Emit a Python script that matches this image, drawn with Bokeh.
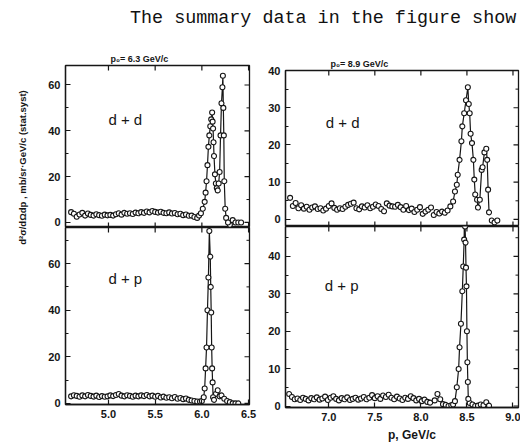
import math
from bokeh.plotting import figure
from bokeh.layouts import row, column
from bokeh.models import Div, Label, FixedTicker, LinearAxis, Range1d, NumeralTickFormatter
from bokeh.embed import file_html
from bokeh.resources import INLINE

# ---------------- data ----------------
HEADER = "The summary data in the figure show"
TITLE_L = "p\u2080= 6.3 GeV/c"
TITLE_R = "p\u2080= 8.9 GeV/c"
REACTIONS = ["d + d", "d + p"]
Y_LABEL = "d\u00b2\u03c3/d\u03a9dp , mb/sr\u00b7GeV/c (stat.syst)"
X_LABEL = "p, GeV/c"

xticks_l = [5.0, 5.5, 6.0, 6.5]
xticks_r = [7.0, 7.5, 8.0, 8.5, 9.0]

# p0 = 6.3 GeV/c, d + d
tl_base_x = [4.60, 4.63, 4.66, 4.69, 4.72, 4.75, 4.78, 4.81, 4.84, 4.87,
             4.90, 4.93, 4.96, 4.99, 5.02, 5.05, 5.08, 5.11, 5.14, 5.17,
             5.20, 5.23, 5.26, 5.29, 5.32, 5.35, 5.38, 5.41, 5.44, 5.47,
             5.50, 5.53, 5.56, 5.59, 5.62, 5.65, 5.68, 5.71, 5.74, 5.77,
             5.80, 5.83, 5.86, 5.89, 5.92, 5.95,
             6.30, 6.33, 6.36, 6.39, 6.42]
tl_base_y = [4.5, 3.8, 2.5, 3.5, 4.2, 3.0, 3.9, 3.3, 3.0, 3.6,
             3.2, 2.9, 3.4, 3.1, 3.3, 3.0, 3.6, 4.0, 3.4, 4.2,
             3.8, 4.0, 3.7, 4.3, 4.0, 4.5, 4.2, 4.8, 4.4, 5.0,
             4.6, 4.3, 4.7, 4.2, 4.0, 4.4, 3.9, 4.1, 3.6, 3.8,
             3.2, 3.5, 2.9, 3.0, 2.4, 2.0,
             -1.0, 1.0, 0.0, 0.0, 0.0]
tl_peak_x = [5.97, 5.99, 6.01, 6.03, 6.04, 6.05, 6.06, 6.07, 6.08, 6.09,
             6.10, 6.11, 6.115, 6.12, 6.125, 6.13, 6.14, 6.15, 6.16, 6.17,
             6.18, 6.19, 6.20, 6.21, 6.22, 6.225, 6.23, 6.235, 6.24, 6.25,
             6.26, 6.28]
tl_peak_y = [3, 4, 6, 9, 13, 18, 25, 33, 38, 42,
             45, 48, 44, 41, 35, 29, 21, 17, 15, 14,
             17, 22, 38, 52, 59, 64, 50, 38, 18, 6,
             2, 0]

# p0 = 6.3 GeV/c, d + p
bl_base_x = [4.60, 4.63, 4.66, 4.69, 4.72, 4.75, 4.78, 4.81, 4.84, 4.87,
             4.90, 4.93, 4.96, 4.99, 5.02, 5.05, 5.08, 5.11, 5.14, 5.17,
             5.20, 5.23, 5.26, 5.29, 5.32, 5.35, 5.38, 5.41, 5.44, 5.47,
             5.50, 5.53, 5.56, 5.59, 5.62, 5.65, 5.68, 5.71, 5.74, 5.77,
             5.80, 5.83, 5.86, 5.89, 5.92, 5.95,
             6.15, 6.17, 6.19, 6.21, 6.24, 6.27, 6.30, 6.33, 6.36, 6.39]
bl_base_y = [3.0, 3.5, 3.2, 2.8, 3.4, 3.0, 3.6, 3.2, 2.9, 3.3,
             2.7, 3.1, 2.8, 3.0, 3.4, 3.1, 3.6, 4.0, 3.3, 3.0,
             3.5, 3.2, 2.8, 3.3, 3.0, 3.4, 3.1, 3.6, 3.0, 3.3,
             2.8, 3.2, 2.5, 2.9, 2.4, 2.6, 2.2, 2.7, 2.0, 2.3,
             1.8, 2.1, 1.5, 1.2, 1.0, 0.8,
             4.0, 5.6, 3.0, 3.4, 2.0, 1.0, 0.5, 0.0, 0.0, 0.0]
bl_peak_x = [5.98, 6.00, 6.02, 6.03, 6.04, 6.05, 6.06, 6.07, 6.08, 6.09,
             6.095, 6.10, 6.105, 6.11, 6.115, 6.12, 6.13]
bl_peak_y = [0.8, 1.0, 2.6, 6.4, 15, 24, 40, 54, 74, 63,
             50, 39, 24, 15, 9, 2.6, 1.5]

# p0 = 8.9 GeV/c, d + d
tr_base_x = [6.58, 6.61, 6.64, 6.67, 6.70, 6.73, 6.76, 6.79, 6.82, 6.85,
             6.88, 6.91, 6.94, 6.97, 7.00, 7.03, 7.06, 7.09, 7.12, 7.15,
             7.18, 7.21, 7.24, 7.27, 7.30, 7.33, 7.36, 7.39, 7.42, 7.45,
             7.48, 7.51, 7.54, 7.57, 7.60, 7.63, 7.66, 7.69, 7.72, 7.75,
             7.78, 7.81, 7.84, 7.87, 7.90, 7.93, 7.96, 7.99, 8.02, 8.05,
             8.08, 8.11, 8.14, 8.17, 8.20, 8.23, 8.26, 8.29,
             8.77, 8.80, 8.83]
tr_base_y = [5.8, 3.6, 4.4, 3.0, 3.8, 2.9, 3.4, 2.6, 3.2, 3.5,
             2.8, 3.0, 2.4, 2.9, 3.6, 4.3, 3.1, 2.6, 3.0, 2.8,
             3.4, 3.9, 4.2, 4.5, 3.0, 2.7, 3.5, 3.2, 3.8, 3.0,
             3.4, 4.0, 3.6, 2.8, 2.2, 4.3, 3.7, 3.5, 3.4, 3.9,
             3.3, 2.6, 3.6, 2.5, 2.9, 2.0, 2.6, 3.3, 1.5, 2.1,
             2.6, 3.2, 1.2, 2.0, 1.6, 2.1, 1.8, 2.4,
             -0.3, -0.8, -0.3]
tr_peak_x = [8.32, 8.35, 8.37, 8.39, 8.40, 8.42, 8.44, 8.45, 8.47, 8.49,
             8.51, 8.52, 8.53, 8.54, 8.555, 8.57, 8.58, 8.59, 8.61, 8.62,
             8.64, 8.66, 8.67, 8.69, 8.71, 8.72, 8.73, 8.74]
tr_peak_y = [3.5, 4.8, 7.5, 9.3, 12, 16, 21, 25, 28.5, 32,
             35.5, 31, 28.5, 23, 20.5, 16, 10.7, 6.7, 5.3, 3.2,
             5.3, 13.3, 14, 18, 19, 16, 8, 1.9]

# p0 = 8.9 GeV/c, d + p
br_base_x = [6.57, 6.60, 6.63, 6.66, 6.69, 6.72, 6.75, 6.78, 6.81, 6.84,
             6.87, 6.90, 6.93, 6.96, 6.99, 7.02, 7.05, 7.08, 7.11, 7.14,
             7.17, 7.20, 7.23, 7.26, 7.29, 7.32, 7.35, 7.38, 7.41, 7.44,
             7.47, 7.50, 7.53, 7.56, 7.59, 7.62, 7.65, 7.68, 7.71, 7.74,
             7.77, 7.80, 7.83, 7.86, 7.89, 7.92, 7.95, 7.98, 8.01, 8.04,
             8.07, 8.10,
             8.15, 8.18, 8.21, 8.24, 8.27, 8.30, 8.33, 8.35,
             8.53, 8.56, 8.59, 8.62, 8.65, 8.68, 8.71, 8.74]
br_base_y = [3.2, 2.4, 1.8, 2.0, 1.6, 2.2, 1.9, 1.5, 2.1, 1.8,
             2.3, 1.7, 2.0, 2.5, 1.6, 2.2, 2.6, 1.9, 1.5, 2.1,
             1.8, 2.3, 1.6, 1.9, 2.2, 1.7, 2.0, 2.4, 1.8, 2.2,
             2.9, 2.1, 2.6, 1.9, 2.8, 2.4, 3.0, 2.2, 1.8, 2.5,
             2.0, 1.6, 2.2, 1.9, 2.6, 2.1, 1.5, 1.9, 1.3, 1.7,
             1.1, 0.9,
             1.5, 3.2, 1.8, 0.5, 0.3, 0.0, 0.2, 0.4,
             0.8, 0.4, 0.0, 0.1, 0.4, 0.2, 1.0, 0.1]
br_peak_x = [8.37, 8.39, 8.41, 8.42, 8.435, 8.45, 8.46, 8.47, 8.475, 8.48,
             8.485, 8.49, 8.495, 8.50, 8.505, 8.51, 8.515]
br_peak_y = [1.3, 5, 9.9, 15.7, 22, 30.7, 37.3, 44.5, 58, 48,
             43.7, 37, 32, 20, 11.7, 6.4, 1.9]

# ---------------- styling ----------------
INK = "#161616"
SANS = "Liberation Sans"
NB = "\u00a0"


def make_axis(ticks, minor, fmt=None):
    ax = LinearAxis(ticker=FixedTicker(ticks=ticks, minor_ticks=minor))
    ax.major_tick_in = 5
    ax.major_tick_out = 0
    ax.minor_tick_in = 3
    ax.minor_tick_out = 0
    ax.axis_line_color = INK
    ax.axis_line_width = 1.3
    ax.major_tick_line_color = INK
    ax.major_tick_line_width = 1.2
    ax.minor_tick_line_color = INK
    ax.major_label_text_font = SANS
    ax.major_label_text_font_size = "11px"
    ax.major_label_text_font_style = "bold"
    ax.major_label_text_color = INK
    ax.major_label_standoff = 5
    ax.axis_label_text_font = SANS
    ax.axis_label_text_font_style = "bold"
    ax.axis_label_text_color = INK
    if fmt:
        ax.formatter = NumeralTickFormatter(format=fmt)
    return ax


def edge_ticks(p, xr, yr, xt, yt, ym, bottom_axis):
    # inward ticks on the right and top edges (and bottom edge of upper panels)
    p.scatter([xr[1]] * len(yt), yt, marker="dash", size=10,
              line_color=INK, line_width=1.2)
    p.scatter([xr[1]] * len(ym), ym, marker="dash", size=6,
              line_color=INK, line_width=1.0)
    p.scatter(xt, [yr[1]] * len(xt), marker="dash", angle=math.pi / 2,
              size=10, line_color=INK, line_width=1.2)
    if not bottom_axis:
        p.scatter(xt, [yr[0]] * len(xt), marker="dash", angle=math.pi / 2,
                  size=10, line_color=INK, line_width=1.2)


def panel(xr, yr, fw, fh, bl, br, bt, bb, xt, yt, ym, bottom_axis,
          bx, by, px, py, tag, tag_xy, title=None):
    kw = {}
    if title is not None:
        kw["title"] = title
    p = figure(frame_width=fw, frame_height=fh,
               x_range=Range1d(*xr), y_range=Range1d(*yr),
               x_axis_type=None, y_axis_type=None,
               output_backend="svg", toolbar_location=None,
               min_border_left=bl, min_border_right=br,
               min_border_top=bt, min_border_bottom=bb, **kw)
    p.outline_line_color = INK
    p.outline_line_width = 1.3
    p.background_fill_color = "white"
    p.border_fill_color = "white"
    p.add_layout(make_axis(yt, ym), "left")
    if bottom_axis:
        p.add_layout(make_axis(xt, [], "0.0"), "below")
    edge_ticks(p, xr, yr, xt, yt, ym, bottom_axis)
    p.line(px, py, line_color=INK, line_width=1.2)
    p.scatter(bx, by, marker="circle", size=5, fill_color="white",
              line_color=INK, line_width=1.1)
    p.scatter(px, py, marker="circle", size=5, fill_color="white",
              line_color=INK, line_width=1.1)
    p.add_layout(Label(x=tag_xy[0], y=tag_xy[1], text=tag,
                       text_font=SANS, text_font_size="15px",
                       text_color=INK, text_align="center",
                       text_baseline="middle"))
    if title is not None:
        p.title.text_font = SANS
        p.title.text_font_size = "9px"
        p.title.text_font_style = "bold"
        p.title.text_color = INK
        p.title.align = "left"
        p.title.offset = 45
        p.title.standoff = 3
    return p


XR_L = (4.54, 6.51)
XR_R = (6.53, 9.06)
YR_TL = (-2.2, 68.5)
YR_BL = (-0.5, 75.5)
YR_TR = (-1.9, 40)
YR_BR = (-0.4, 48.0)

tl = panel(XR_L, YR_TL, 184, 162, 25, 11, 25, 0, xticks_l,
           [0, 20, 40, 60], [10, 30, 50], False,
           tl_base_x, tl_base_y, tl_peak_x, tl_peak_y, REACTIONS[0], (5.18, 45.0),
           title=TITLE_L)
bl = panel(XR_L, YR_BL, 184, 177, 25, 11, 0, 40, xticks_l,
           [0, 20, 40, 60], [10, 30, 50, 70], True,
           bl_base_x, bl_base_y, bl_peak_x, bl_peak_y, REACTIONS[1], (5.18, 53.6))
tr = panel(XR_R, YR_TR, 233, 156, 25, 2, 30, 0, xticks_r,
           [0, 10, 20, 30, 40], [5, 15, 25, 35], False,
           tr_base_x, tr_base_y, tr_peak_x, tr_peak_y, REACTIONS[0], (7.15, 26.0),
           title=TITLE_R)
br = panel(XR_R, YR_BR, 233, 181, 25, 2, 0, 37, xticks_r,
           [0, 10, 20, 30, 40], [5, 15, 25, 35, 45], True,
           br_base_x, br_base_y, br_peak_x, br_peak_y, REACTIONS[1], (7.14, 32.2))

# x-axis label (on the lower-right panel, nudged right)
br.below[0].axis_label = NB * 6 + X_LABEL
br.below[0].axis_label_text_font_size = "12px"
br.below[0].axis_label_standoff = 4

# rotated y-axis label in its own narrow column at the left
ylab = Div(text=('<div style="position: relative; left: -58px; top: 119px; '
                 'width: 160px; text-align: center; transform: rotate(-90deg); '
                 'white-space: nowrap; font-family: \'Liberation Sans\', sans-serif; '
                 'font-weight: bold; font-size: 9.5px; line-height: 11px; color: #161616;">'
                 + Y_LABEL + '</div>'),
           width=40, height=404, margin=0)

header = Div(text=('<div style="font-family: \'Liberation Mono\', monospace; '
                   'font-size: 18.4px; color: #111; margin-left: 130px; '
                   'margin-top: 6px; white-space: nowrap;">' + HEADER + '</div>'),
             width=520, height=40, margin=0)

layout = column(header,
                row(ylab, column(tl, bl, spacing=0), column(tr, br, spacing=0),
                    spacing=0),
                spacing=0)

open("out.html", "w").write(file_html(layout, INLINE))
